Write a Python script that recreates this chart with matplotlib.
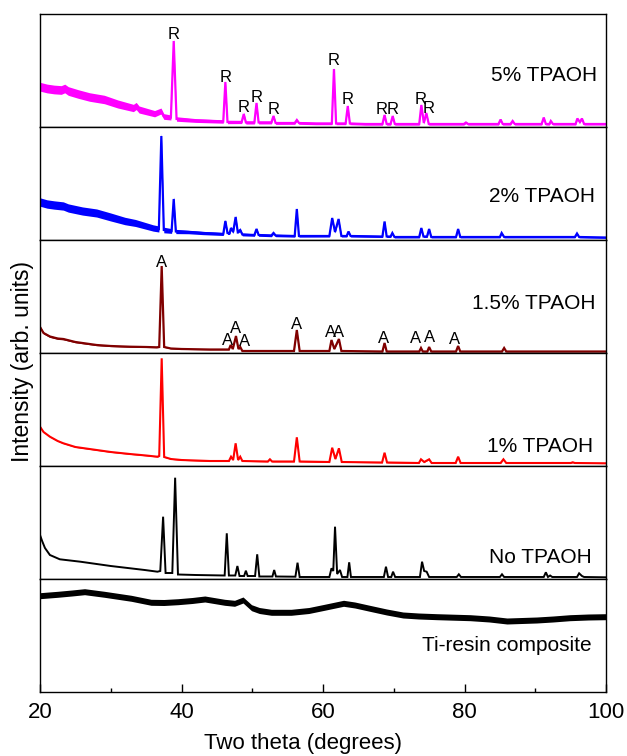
import numpy as np
import matplotlib
matplotlib.use("Agg")
import matplotlib.pyplot as plt

plt.rcParams['font.family'] = ['Liberation Sans', 'DejaVu Sans']

# sample names, top to bottom
samples = ["5% TPAOH", "2% TPAOH", "1.5% TPAOH", "1% TPAOH", "No TPAOH",
           "Ti-resin composite"]

# 5% TPAOH (rutile)
tp5_x = [20.0, 21.0, 22.0, 23.0, 23.5, 24.0, 25.4, 27.0, 29.1, 31.0, 33.2, 33.6,
         34.0, 36.2, 37.1, 37.5, 38.5, 38.9, 39.3, 42.0, 44.0, 45.9, 46.2, 46.5,
         48.5, 48.8, 49.1, 50.3, 50.6, 50.9, 52.7, 53.0, 53.3, 56.0, 56.3, 56.6,
         59.0, 61.25, 61.55, 61.85, 63.2, 63.5, 63.8, 66.0, 68.4, 68.7, 69.0,
         69.55, 69.85, 70.15, 73.6, 73.9, 74.25, 74.6, 74.95, 79.9, 80.2, 80.5,
         84.8, 85.1, 85.4, 86.5, 86.8, 87.1, 90.9, 91.2, 91.5, 92.0, 92.2, 92.5,
         95.7, 95.95, 96.3, 96.6, 96.9, 100.0]
tp5_y = [40.3, 38.5, 37.5, 37, 38.5, 36, 33, 30, 27.5, 23, 19, 21,
         17.5, 13.3, 16, 10.5, 9.5, 86, 8, 6.5, 6, 5.5, 45, 5,
         5, 13, 4.5, 4.5, 24, 4.5, 4.5, 11, 4, 4, 7, 4,
         3.5, 3.5, 58, 3.5, 3.5, 21, 3.5, 3, 3, 12, 3,
         3, 11, 3, 3, 22, 4, 14, 3, 3, 4.5, 3,
         3, 7.5, 3, 3, 6, 3, 3, 9.5, 3, 3, 6, 3,
         3, 8.5, 5, 8.5, 3, 3]
tp5_noise_x = [20, 30, 37, 40, 50, 60, 100]
tp5_noise = [4.4, 4.2, 3.0, 2.0, 1.5, 1.2, 1.0]
tp5_lab_x = [38.9, 46.2, 48.8, 50.6, 53.0, 61.55, 63.5, 68.3, 69.9, 73.85, 75.0]
tp5_lab_y = [88, 45, 15, 25, 13.3, 61.7, 23.3, 13, 13, 23.3, 13.7]

# 2% TPAOH
tp2_x = [20.0, 21.0, 22.0, 23.3, 24.0, 26.0, 28.0, 30.0, 32.0, 33.5, 35.0, 36.0,
         36.8, 37.15, 37.5, 38.6, 38.9, 39.2, 41.0, 43.0, 45.9, 46.2, 46.5, 46.8,
         47.0, 47.3, 47.65, 47.95, 48.3, 48.6, 50.3, 50.6, 50.9, 52.7, 53.0, 53.3,
         56.0, 56.3, 56.6, 60.9, 61.3, 61.7, 62.2, 62.6, 63.35, 63.6, 63.9, 68.4,
         68.7, 69.0, 69.55, 69.8, 70.1, 73.6, 73.9, 74.2, 74.7, 75.0, 75.3, 78.8,
         79.1, 79.4, 85.0, 85.25, 85.6, 95.6, 95.9, 96.2, 100.0]
tp2_y = [38, 36, 35, 34, 32, 29, 27, 23, 19, 17, 14, 12,
         11, 104, 10, 9, 41, 8.5, 8, 7, 6, 19, 7, 7,
         12, 8, 23, 8, 10, 5.5, 5, 11, 5, 4.5, 7, 4.5,
         4, 31, 4, 4, 22, 8, 21, 4, 4, 8.5, 4, 3.5,
         18.5, 3.5, 3.5, 7, 3, 3, 12, 3.5, 3.5, 11, 3, 3,
         11, 3, 3, 7, 3, 3, 6.5, 3, 2.5]
tp2_noise_x = [20, 30, 37, 40, 50, 60, 100]
tp2_noise = [4.2, 4.0, 3.0, 1.8, 1.3, 1.0, 0.8]

# 1.5% TPAOH (anatase)
tp15_x = [20.0, 20.5, 21.4, 22.5, 23.3, 25.0, 28.0, 30.0, 32.7, 35.0, 36.5, 36.85,
          37.2, 37.55, 38.5, 40.0, 44.0, 46.7, 46.95, 47.25, 47.7, 48.05, 48.3,
          48.6, 52.0, 55.9, 56.3, 56.7, 60.9, 61.2, 61.6, 62.25, 62.6, 68.4, 68.7,
          69.0, 73.6, 73.85, 74.1, 74.75, 75.0, 75.3, 78.8, 79.1, 79.4, 85.3, 85.6,
          85.9, 100.0]
tp15_y = [26, 20, 16.5, 14.5, 14, 11, 8, 7, 6.3, 6, 5.7, 6,
          87, 6, 4.5, 4, 3.5, 3.5, 8, 4, 17, 4, 6,
          2, 2, 2, 23, 2, 2, 13, 4, 14, 2, 1.5, 10,
          1.5, 1.5, 5, 1.5, 1.5, 6, 1.5, 1.5, 7, 1.5, 1.5, 5,
          1.5, 1.5]
tp15_noise_x = [20, 30, 40, 100]
tp15_noise = [1.0, 0.6, 0.4, 0.3]
tp15_lab_x = [37.2, 46.5, 47.7, 48.9, 56.3, 61.0, 62.25, 68.5, 73.1, 75.0, 78.65]
tp15_lab_y = [86, 7.7, 19.7, 7, 23.7, 16, 16, 10.3, 9.7, 11, 8.7]

# 1% TPAOH
tp1_x = [20.0, 20.5, 21.4, 22.5, 23.3, 25.0, 28.0, 30.0, 32.7, 35.0, 36.6, 36.85,
         37.2, 37.55, 38.5, 40.0, 44.0, 46.7, 47.0, 47.3, 47.65, 48.0, 48.3, 48.6,
         52.2, 52.5, 52.8, 55.9, 56.3, 56.7, 60.9, 61.3, 61.75, 62.25, 62.65,
         68.35, 68.7, 69.05, 73.55, 73.85, 74.3, 75.0, 75.35, 78.75, 79.1, 79.45,
         85.1, 85.5, 85.9, 95.0, 95.3, 95.6, 100.0]
tp1_y = [39.3, 34, 29.3, 25, 22.7, 19, 16, 14, 12, 10.5, 9.3, 10,
         107.7, 9, 7, 6, 5, 5, 9.3, 6, 22.7, 6, 9.3, 5,
         4.5, 6.7, 4.5, 4.5, 28.7, 4.5, 4, 18.3, 7, 17.7, 4,
         3.5, 13.3, 3.5, 3, 6.7, 4, 6.7, 3, 3, 9.3, 3,
         3, 6.7, 3, 3, 3.7, 3, 2.7]
tp1_noise_x = [20, 100]
tp1_noise = [0.4, 0.3]

# No TPAOH
tp0_x = [20.0, 20.3, 20.7, 21.4, 22.8, 25.7, 30.0, 34.8, 36.6, 37.0, 37.4, 37.75,
         38.7, 39.1, 39.5, 42.0, 46.1, 46.4, 46.7, 47.6, 47.9, 48.2, 48.85, 49.1,
         49.35, 50.4, 50.7, 51.0, 52.85, 53.1, 53.35, 56.1, 56.4, 56.7, 60.9, 61.2,
         61.45, 61.7, 62.0, 62.4, 62.7, 63.45, 63.7, 63.95, 68.6, 68.9, 69.2,
         69.65, 69.9, 70.2, 73.7, 74.0, 74.3, 74.65, 75.0, 78.9, 79.2, 79.5, 85.0,
         85.3, 85.6, 91.2, 91.5, 91.8, 92.1, 92.4, 95.9, 96.2, 96.6, 96.9, 100.0]
tp0_y = [44, 38, 31, 24, 19.7, 17.3, 13, 9, 7.3, 8, 62.3, 6,
         6, 101.3, 4.5, 4, 3.5, 45.7, 3.5, 3.5, 13, 3, 3, 8.3,
         3, 3, 24.7, 2.5, 2.5, 9, 2.5, 2.3, 16.3, 2, 2, 10.7,
         8, 52.3, 5, 9, 2, 2, 16.7, 2, 2, 12.3, 2,
         2, 7.3, 2, 2, 17.3, 8, 7.3, 2, 2, 4.7, 2, 2,
         4.7, 2, 2, 6.7, 2, 3.5, 2, 2, 5.7, 3, 2, 1.7]
tp0_noise_x = [20, 100]
tp0_noise = [0.0, 0.0]

# Ti-resin composite (amorphous)
ti_x = [20, 22.5, 24.5, 26.3, 29.1, 32.9, 35.7, 37.5, 39.5, 41.5, 43.3, 45,
        46.1, 47.5, 48.7, 49.9, 51, 52.7, 55.5, 58, 60.2, 62.9, 64.5, 66.6,
        69, 71.3, 73.5, 76.1, 80.8, 83.5, 86, 90.2, 92.5, 94.9, 97.5, 100]
ti_y = [96.3, 97.7, 99, 100.3, 97.7, 93.7, 89.7, 89.5, 90.3, 91.5, 93, 91,
        89.7, 88.7, 92, 84.3, 81.5, 79.7, 79.7, 81.5, 84.7, 88.7, 87, 83.7,
        80, 77, 76, 75.3, 74.3, 73, 71, 72, 73, 74.3, 75, 75.3]
ti_noise_x = [20, 100]
ti_noise = [3.0, 3.0]


def draw_pattern(ax, x, y, nx, nw, color, lw):
    x = np.asarray(x, dtype=float)
    y = np.asarray(y, dtype=float)
    hw = np.interp(x, nx, nw)
    if hw.max() > 0:
        ax.fill_between(x, y - hw, y + hw, color=color, lw=0)
    ax.plot(x, y, color=color, lw=lw, solid_joinstyle='miter')


def main():
    W, H = 627, 756
    fig = plt.figure(figsize=(W / 100, H / 100), dpi=100)

    series = [
        (tp5_x, tp5_y, tp5_noise_x, tp5_noise, "#ff00ff", 1.6),
        (tp2_x, tp2_y, tp2_noise_x, tp2_noise, "#0000ff", 1.6),
        (tp15_x, tp15_y, tp15_noise_x, tp15_noise, "#800000", 1.6),
        (tp1_x, tp1_y, tp1_noise_x, tp1_noise, "#ff0000", 1.5),
        (tp0_x, tp0_y, tp0_noise_x, tp0_noise, "black", 1.4),
        (ti_x, ti_y, ti_noise_x, ti_noise, "black", 1.2),
    ]
    # panel label placement (axes fraction): right edge, baseline
    name_pos = [(0.984, 0.408), (0.981, 0.340), (0.982, 0.387),
                (0.978, 0.128), (0.974, 0.144), (0.975, 0.365)]

    tops = [14, 127, 240, 353, 466, 579]
    axes = []
    for i, top in enumerate(tops):
        ax = fig.add_axes([40 / W, 1 - (top + 113) / H, 566 / W, 113 / H])
        x, y, nx, nw, color, lw = series[i]
        draw_pattern(ax, x, y, nx, nw, color, lw)
        ax.set_xlim(20, 100)
        ax.set_ylim(0, 113)
        ax.set_yticks([])
        for sp in ax.spines.values():
            sp.set_linewidth(1.0)
        ax.text(name_pos[i][0], name_pos[i][1], samples[i], transform=ax.transAxes,
                ha='right', va='baseline', fontsize=15)
        if i < len(tops) - 1:
            ax.tick_params(axis='x', bottom=False, labelbottom=False)
        axes.append(ax)

    # phase markers
    for lx, ly in zip(tp5_lab_x, tp5_lab_y):
        axes[0].text(lx, ly, "R", ha='center', va='baseline', fontsize=12)
    for lx, ly in zip(tp15_lab_x, tp15_lab_y):
        axes[2].text(lx, ly, "A", ha='center', va='baseline', fontsize=12)

    bottom = axes[-1]
    bottom.set_xticks([20, 40, 60, 80, 100])
    bottom.set_xticks([30, 50, 70, 90], minor=True)
    bottom.tick_params(axis='x', which='major', direction='in', length=6, width=1,
                       labelsize=16, pad=7.5, top=False)
    bottom.tick_params(axis='x', which='minor', direction='in', length=3, width=1,
                       top=False)

    fig.text(302.5 / W, 1 - 749 / H, "Two theta (degrees)", ha='center',
             va='baseline', fontsize=16)
    fig.text(22.5 / W, 1 - 361.5 / H, "Intensity (arb. units)", rotation=90,
             ha='center', va='center', fontsize=16.5)

    fig.savefig("out.png", dpi=100)


if __name__ == "__main__":
    main()
